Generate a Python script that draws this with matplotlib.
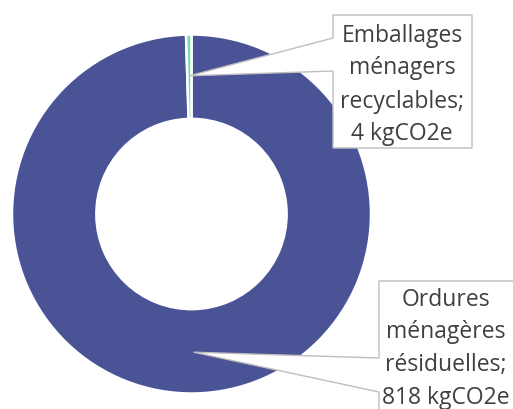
import matplotlib.pyplot as plt
from matplotlib.patches import Polygon
import numpy as np

# data
labels = ["Ordures\nménagères\nrésiduelles;\n818 kgCO2e",
          "Emballages\nménagers\nrecyclables;\n4 kgCO2e"]
values = [818, 4]
colors = ["#4A5396", "#7DD8AE"]

W, H = 513, 409
fig = plt.figure(figsize=(W / 100, H / 100), dpi=100)
ax = fig.add_axes([0, 0, 1, 1])

cx, cy, R = 191.5, H - 214, 179.5
wedges, _ = ax.pie(values, colors=colors, startangle=90, counterclock=False,
                   center=(cx, cy), radius=R,
                   wedgeprops=dict(width=R * 0.47, edgecolor="white", linewidth=1.8))
ax.set_xlim(0, W)
ax.set_ylim(0, H)
ax.set_aspect("auto")
ax.axis("off")

# callout boxes (pixel coords, y from top): left, top, right, bottom, wedge top, wedge bottom
boxes = [(379, 281, 525, 430, 358, 392),
         (333, 15, 472, 148, 38, 71)]
# text centre of each label (pixel coords)
text_pos = [(446, 349), (402, 85)]

for w, lab, (l, t, r, b, wt, wb), (tx, ty) in zip(wedges, labels, boxes, text_pos):
    ang = np.deg2rad((w.theta1 + w.theta2) / 2)
    tip = (cx + 0.77 * R * np.cos(ang), cy + 0.77 * R * np.sin(ang))
    pts = [(l, H - t), (r, H - t), (r, H - b), (l, H - b), (l, H - wb), tip, (l, H - wt)]
    ax.add_patch(Polygon(pts, closed=True, facecolor="white", edgecolor="#BFBFBF",
                         linewidth=1.0, zorder=3))
    ax.text(tx, H - ty, lab, ha="center", va="center", fontsize=16.5,
            family="Open Sans", color="#404040", linespacing=1.5, zorder=4)

fig.savefig("out.png", dpi=100)
